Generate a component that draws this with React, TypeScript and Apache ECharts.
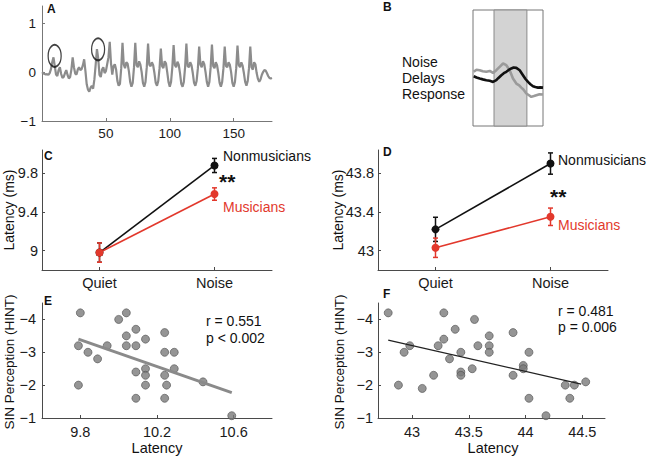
import React, { useEffect, useRef } from "react";
import * as echarts from "echarts";

// ---------- Panel A: waveform (time 0..180 ms, one sample per ms) ----------
const waveValues = [
  0.0, -0.02, -0.04, -0.05, -0.04, -0.06, -0.02, 0.06, 0.2, 0.3,
  0.12, -0.05, -0.08, 0.04, 0.1, -0.04, -0.12, -0.1, -0.02, 0.04,
  -0.06, -0.13, -0.1, 0.05, 0.3, 0.1, -0.03, -0.05, 0.05, 0.1,
  0.04, 0.06, 0.14, 0.26, 0.02, -0.25, -0.36, -0.4, -0.32, -0.28,
  -0.34, -0.15, 0.15, 0.47, 0.28, -0.06, -0.1, 0.05, 0.1, -0.02,
  0.02, 0.16, 0.3, 0.62, 0.18, -0.05, 0.12, 0.16, 0.05, -0.18,
  -0.28, -0.24, 0.08, 0.6, 0.15, 0.08, 0.2, 0.17, 0.02, -0.2,
  -0.3, -0.22, 0.1, 0.6, 0.14, 0.1, 0.22, 0.15, 0.0, -0.22,
  -0.3, -0.2, 0.1, 0.58, 0.15, 0.12, 0.2, 0.14, -0.02, -0.22,
  -0.28, -0.18, 0.08, 0.48, 0.12, 0.08, 0.22, 0.18, 0.0, -0.2,
  -0.3, -0.2, 0.1, 0.55, 0.14, 0.1, 0.21, 0.15, -0.02, -0.24,
  -0.3, -0.2, 0.1, 0.58, 0.12, 0.1, 0.2, 0.14, -0.02, -0.22,
  -0.28, -0.18, 0.08, 0.52, 0.15, 0.1, 0.22, 0.16, 0.0, -0.2,
  -0.3, -0.2, 0.1, 0.56, 0.12, 0.08, 0.2, 0.14, -0.02, -0.22,
  -0.3, -0.2, 0.08, 0.52, 0.12, 0.1, 0.2, 0.15, 0.0, -0.22,
  -0.3, -0.2, 0.08, 0.54, 0.14, 0.1, 0.2, 0.13, -0.02, -0.2,
  -0.28, -0.18, 0.08, 0.52, 0.1, 0.05, 0.2, 0.16, -0.02, -0.14,
  -0.2, -0.15, -0.06, 0.0, 0.04, 0.03, -0.02, -0.08, -0.12, -0.13,
  -0.12,
];
const circledPeaksT = [9.9, 43.9];
const circledPeaksV = [0.33, 0.465];
const aXTicks = [50, 100, 150];
const aYTicks = [-1, 0, 1];

// ---------- Panel B: schematic traces ----------
const bShade = [30, 77];
const bGrayX = [1, 5, 9.5, 14, 19, 24, 28.6, 33.3, 38.1, 42.9, 47.6, 52.4, 57.1, 61.9, 66, 69, 72, 76.2, 80, 83.3, 87, 90.5, 95, 100];
const bGrayY = [46.7, 48.5, 48.1, 47.2, 46.7, 47.5, 45.8, 48.1, 51, 53.9, 52.4, 48.1, 40.9, 36.6, 35, 33.1, 31.5, 28, 26.5, 25.1, 25.8, 26.5, 27.4, 27.1];
const bBlackX = [1, 5, 9.5, 14, 19, 24, 28.6, 33.3, 36, 40.5, 44, 47.6, 51, 54.8, 58, 61.9, 66.7, 71.4, 75, 78.6, 82, 85.7, 89, 92.9, 96, 100];
const bBlackY = [42.9, 41.8, 40.9, 40.2, 39.5, 39, 38, 39.5, 41.2, 43.8, 45.5, 46.7, 48.3, 49.6, 50.4, 50.1, 48.1, 43.8, 40.5, 38, 36, 34.3, 33.6, 33.1, 33.3, 33.1];

// ---------- Panels C & D: latency by condition ----------
const conditions = ["Quiet", "Noise"];
const condPos = [1, 2];
const cNonmus = [8.98, 9.88];
const cNonmusErr = [0.1, 0.073];
const cMus = [8.98, 9.585];
const cMusErr = [0.1, 0.064];
const cYTicks = [9, 9.4, 9.8];
const dNonmus = [43.22, 43.9];
const dNonmusErr = [0.125, 0.11];
const dMus = [43.03, 43.35];
const dMusErr = [0.1, 0.09];
const dYTicks = [43, 43.4, 43.8];

// ---------- Panels E & F: SIN perception vs latency ----------
const eLatency = [9.8, 9.79, 9.84, 9.89, 9.79, 9.94, 10.0, 10.04, 10.04, 10.04, 10.09, 10.09, 10.09, 10.09,
  10.14, 10.14, 10.14, 10.14, 10.24, 10.24, 10.24, 10.24, 10.25, 10.29, 10.29, 10.44, 10.59];
const eHint = [-4.2, -3.2, -3.0, -2.8, -2.0, -3.2, -4.0, -4.2, -3.5, -3.2, -3.7, -3.2, -2.4, -1.6,
  -3.4, -2.5, -2.3, -2.0, -3.6, -3.0, -2.3, -1.6, -2.0, -3.0, -2.5, -2.1, -1.07];
const eFitX = [9.79, 10.59];
const eFitY = [-3.4, -1.77];
const eXTicks = [9.8, 10.2, 10.6];
const fLatency = [42.79, 42.88, 42.93, 42.98, 43.09, 43.19, 43.23, 43.28, 43.28, 43.33, 43.38, 43.43, 43.43,
  43.43, 43.53, 43.55, 43.58, 43.68, 43.68, 43.68, 43.89, 43.89, 43.98, 43.98, 44.03, 44.03, 44.18,
  44.35, 44.39, 44.43, 44.53];
const fHint = [-4.2, -2.0, -3.0, -3.2, -1.9, -2.3, -3.2, -4.2, -3.4, -2.8, -3.7, -3.0, -2.4,
  -2.3, -2.5, -4.0, -3.2, -3.5, -3.2, -3.0, -3.6, -2.3, -2.6, -2.5, -3.0, -1.6, -1.07,
  -2.0, -1.6, -2.0, -2.1];
const fFitX = [42.79, 44.49];
const fFitY = [-3.37, -2.03];
const fXTicks = [43, 43.5, 44, 44.5];
const hintTicks = [-4, -3, -2, -1];

const FONT = "'Liberation Sans', Arial, Helvetica, sans-serif";
const RED = "#e2382c";
const AXIS = "#4a4a4a";

const minus = (v: number) => String(v).replace("-", "\u2212");

function valueAxis(grid: number, min: number, max: number, ticks: number[], extra: any = {}) {
  return {
    type: "value",
    gridIndex: grid,
    min,
    max,
    axisLine: { show: true, onZero: false, lineStyle: { color: extra.color || AXIS, width: 1 } },
    axisTick: { show: true, inside: true, length: 3, customValues: ticks, lineStyle: { color: extra.color || AXIS } },
    axisLabel: {
      customValues: ticks,
      color: "#1a1a1a",
      fontSize: extra.fontSize || 14.5,
      fontFamily: FONT,
      margin: extra.margin ?? 5,
      formatter: extra.formatter || ((v: number) => minus(v)),
    },
    splitLine: { show: false },
    inverse: !!extra.inverse,
  };
}

function errorBars(xs: number[], vals: number[], errs: number[], color: string, xi: number, yi: number) {
  return {
    type: "custom",
    xAxisIndex: xi,
    yAxisIndex: yi,
    data: xs.map((x, i) => [x, vals[i] - errs[i], vals[i] + errs[i]]),
    renderItem: (params: any, api: any) => {
      const x = api.value(0);
      const lo = api.coord([x, api.value(1)]);
      const hi = api.coord([x, api.value(2)]);
      const cap = 2.5;
      const st = { stroke: color, lineWidth: 1.5 };
      return {
        type: "group",
        children: [
          { type: "line", shape: { x1: hi[0], y1: hi[1], x2: lo[0], y2: lo[1] }, style: st },
          { type: "line", shape: { x1: hi[0] - cap, y1: hi[1], x2: hi[0] + cap, y2: hi[1] }, style: st },
          { type: "line", shape: { x1: lo[0] - cap, y1: lo[1], x2: lo[0] + cap, y2: lo[1] }, style: st },
        ],
      };
    },
    z: 3,
  };
}

function groupLine(xs: number[], vals: number[], color: string, xi: number, yi: number) {
  return {
    type: "line",
    xAxisIndex: xi,
    yAxisIndex: yi,
    data: xs.map((x, i) => [x, vals[i]]),
    symbol: "circle",
    symbolSize: 8,
    lineStyle: { color, width: 1.6 },
    itemStyle: { color },
    z: 4,
  };
}

function text(x: number, y: number, str: string, opts: any = {}) {
  return {
    type: "text",
    x,
    y,
    rotation: opts.rotation || 0,
    z: 10,
    style: {
      text: str,
      fill: opts.fill || "#111",
      font: `${opts.weight || "normal"} ${opts.size || 14}px ${FONT}`,
      align: opts.align || "left",
      verticalAlign: opts.valign || "middle",
      lineHeight: opts.lineHeight,
    },
  };
}

export default function App() {
  const ref = useRef<HTMLDivElement>(null);
  useEffect(() => {
    if (!ref.current) return;
    const chart = echarts.init(ref.current, null, { renderer: "svg" });
    const condFormatter = (v: number) => {
      const i = condPos.indexOf(v);
      return i >= 0 ? conditions[i] : "";
    };
    const option: any = {
      animation: false,
      backgroundColor: "#ffffff",
      grid: [
        { left: 42, top: 6, width: 230, height: 115 },
        { left: 473, top: 10, width: 70, height: 116, show: true, borderColor: "#777", borderWidth: 1, backgroundColor: "#fff" },
        { left: 42, top: 150, width: 230, height: 120 },
        { left: 378, top: 150, width: 230, height: 120 },
        { left: 42, top: 303, width: 230, height: 115 },
        { left: 378, top: 303, width: 227, height: 115 },
      ],
      xAxis: [
        valueAxis(0, 0, 180, aXTicks, { color: "#777", margin: 5, fontSize: 13.5 }),
        { type: "value", gridIndex: 1, min: 0, max: 100, show: false },
        valueAxis(2, 0.5, 2.5, condPos, { formatter: condFormatter, margin: 5 }),
        valueAxis(3, 0.5, 2.5, condPos, { formatter: condFormatter, margin: 5 }),
        valueAxis(4, 9.6, 10.8, eXTicks, { margin: 6 }),
        valueAxis(5, 42.7, 44.7, fXTicks, { margin: 6 }),
      ],
      yAxis: [
        valueAxis(0, -1, 1.35, aYTicks, { color: "#777", margin: 6, fontSize: 13.5 }),
        { type: "value", gridIndex: 1, min: 0, max: 100, show: false },
        valueAxis(2, 8.8, 10.04, cYTicks, { margin: 4 }),
        valueAxis(3, 42.8, 44.04, dYTicks, { margin: 4 }),
        valueAxis(4, -4.5, -1, hintTicks, { inverse: true, margin: 6 }),
        valueAxis(5, -4.5, -1, hintTicks, { inverse: true, margin: 5 }),
      ],
      series: [
        // A
        {
          type: "line",
          xAxisIndex: 0,
          yAxisIndex: 0,
          data: waveValues.map((v, i) => [i, v]),
          showSymbol: false,
          lineStyle: { color: "#8c8c8c", width: 2.2 },
        },
        {
          type: "scatter",
          xAxisIndex: 0,
          yAxisIndex: 0,
          data: circledPeaksT.map((t, i) => [t, circledPeaksV[i]]),
          symbol: "circle",
          symbolSize: [13, 22],
          itemStyle: { color: "rgba(0,0,0,0)", borderColor: "#111", borderWidth: 1.6 },
          z: 5,
        },
        // B
        {
          type: "line",
          xAxisIndex: 1,
          yAxisIndex: 1,
          data: bGrayX.map((x, i) => [x, bGrayY[i]]),
          showSymbol: false,
          lineStyle: { color: "#9a9a9a", width: 2.6 },
          markArea: {
            silent: true,
            itemStyle: { color: "#d3d3d3", borderColor: "#8a8a8a", borderWidth: 1 },
            data: [[{ xAxis: bShade[0], yAxis: 0 }, { xAxis: bShade[1], yAxis: 100 }]],
          },
          z: 3,
        },
        {
          type: "line",
          xAxisIndex: 1,
          yAxisIndex: 1,
          data: bBlackX.map((x, i) => [x, bBlackY[i]]),
          showSymbol: false,
          lineStyle: { color: "#111", width: 2.6 },
          z: 4,
        },
        // C
        groupLine(condPos, cNonmus, "#111", 2, 2),
        errorBars(condPos, cNonmus, cNonmusErr, "#111", 2, 2),
        groupLine(condPos, cMus, RED, 2, 2),
        errorBars(condPos, cMus, cMusErr, RED, 2, 2),
        // D
        groupLine(condPos, dNonmus, "#111", 3, 3),
        errorBars(condPos, dNonmus, dNonmusErr, "#111", 3, 3),
        groupLine(condPos, dMus, RED, 3, 3),
        errorBars(condPos, dMus, dMusErr, RED, 3, 3),
        // E
        {
          type: "scatter",
          xAxisIndex: 4,
          yAxisIndex: 4,
          data: eLatency.map((x, i) => [x, eHint[i]]),
          symbolSize: 8,
          itemStyle: { color: "#7a7a7a", borderColor: "#505050", borderWidth: 0.8 },
          z: 3,
        },
        {
          type: "line",
          xAxisIndex: 4,
          yAxisIndex: 4,
          data: eFitX.map((x, i) => [x, eFitY[i]]),
          showSymbol: false,
          lineStyle: { color: "#8a8a8a", width: 3 },
          z: 4,
        },
        // F
        {
          type: "scatter",
          xAxisIndex: 5,
          yAxisIndex: 5,
          data: fLatency.map((x, i) => [x, fHint[i]]),
          symbolSize: 8,
          itemStyle: { color: "#7a7a7a", borderColor: "#505050", borderWidth: 0.8 },
          z: 3,
        },
        {
          type: "line",
          xAxisIndex: 5,
          yAxisIndex: 5,
          data: fFitX.map((x, i) => [x, fFitY[i]]),
          showSymbol: false,
          lineStyle: { color: "#222", width: 1.2 },
          z: 4,
        },
      ],
      graphic: [
        text(47, 9, "A", { weight: "bold", size: 12 }),
        text(383, 7, "B", { weight: "bold", size: 12 }),
        text(44, 156, "C", { weight: "bold", size: 12 }),
        text(383, 152, "D", { weight: "bold", size: 12 }),
        text(44, 301, "E", { weight: "bold", size: 12 }),
        text(383, 294, "F", { weight: "bold", size: 12 }),
        text(402, 78, "Noise\nDelays\nResponse", { size: 14, lineHeight: 16 }),
        text(223, 156, "Nonmusicians", { size: 14 }),
        text(223, 207, "Musicians", { size: 14, fill: RED }),
        text(219, 181, "**", { size: 21, weight: "bold" }),
        text(558, 160, "Nonmusicians", { size: 14 }),
        text(558, 225, "Musicians", { size: 14, fill: RED }),
        text(550, 196, "**", { size: 21, weight: "bold" }),
        text(9, 210, "Latency (ms)", { size: 14, rotation: Math.PI / 2, align: "center" }),
        text(338, 210, "Latency (ms)", { size: 14, rotation: Math.PI / 2, align: "center" }),
        text(9, 362, "SIN Perception (HINT)", { size: 13.5, rotation: Math.PI / 2, align: "center" }),
        text(339, 362, "SIN Perception (HINT)", { size: 13.5, rotation: Math.PI / 2, align: "center" }),
        text(157, 448, "Latency", { size: 14.5, align: "center" }),
        text(493, 448, "Latency", { size: 14.5, align: "center" }),
        text(206, 321, "r = 0.551", { size: 14 }),
        text(206, 338, "p < 0.002", { size: 14 }),
        text(558, 311, "r = 0.481", { size: 14 }),
        text(558, 327, "p = 0.006", { size: 14 }),
      ],
    };
    chart.setOption(option);
    return () => chart.dispose();
  }, []);
  return (
    <div
      ref={ref}
      style={{ position: "fixed", left: 0, top: 0, width: 651, height: 459, background: "#fff" }}
    />
  );
}
